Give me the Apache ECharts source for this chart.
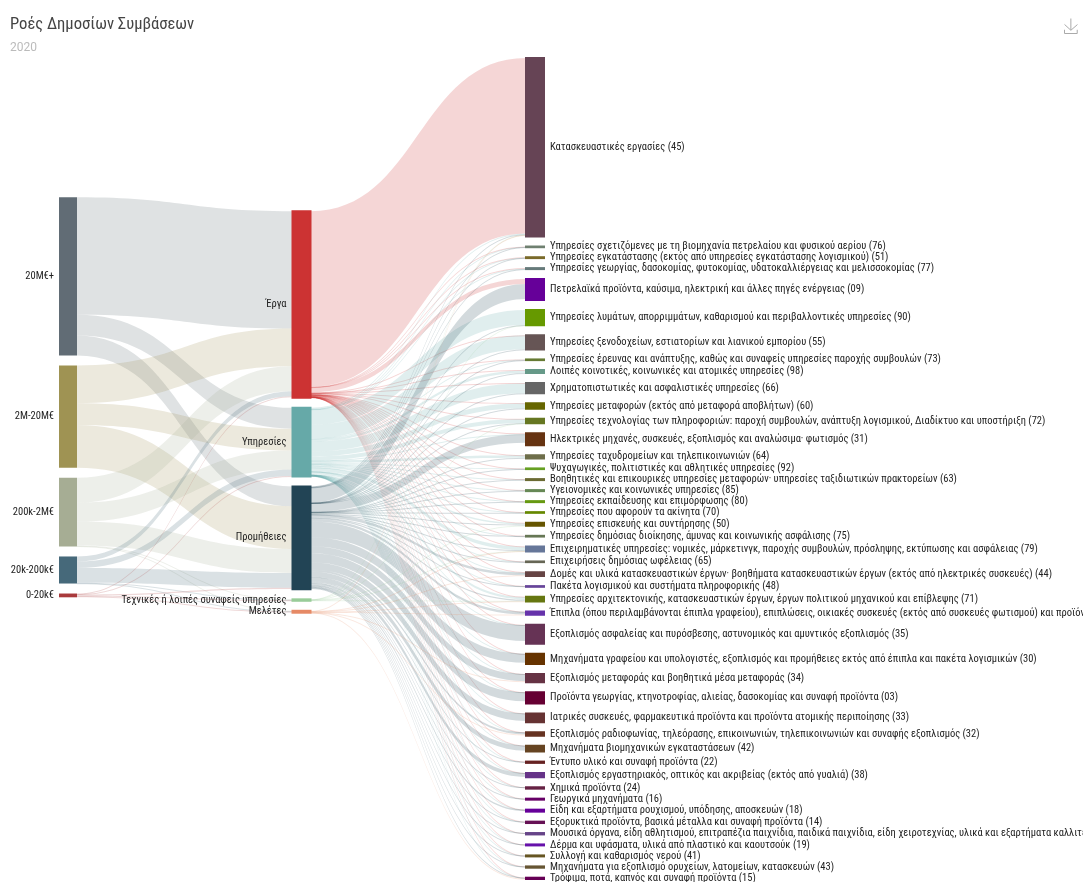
<!DOCTYPE html>
<html>
<head>
<meta charset="utf-8">
<title>Ροές Δημοσίων Συμβάσεων</title>
<script src="https://cdn.jsdelivr.net/npm/echarts@6/dist/echarts.min.js"></script>
<style>
  html, body { margin: 0; padding: 0; background: #fff; }
  #chart { width: 1083px; height: 882px; }
</style>
</head>
<body>
<div id="chart"></div>
<script>
const tierNames = ['20M€+', '2M-20M€', '200k-2M€', '20k-200k€', '0-20k€'];
const tierColors = ['#616c75', '#9f9353', '#a6ad94', '#46697a', '#a93a3c'];

const typeNames = ['Έργα', 'Υπηρεσίες', 'Προμήθειες', 'Τεχνικές ή λοιπές συναφείς υπηρεσίες', 'Μελέτες'];
const typeColors = ['#cc3333', '#66a9a8', '#224455', '#99cc99', '#e68a66'];
const typeTotals = [187.6, 69, 103.5, 1.4, 1.8];

// one row per tier, one column per contract type
const tierFlows = [
  [118, 21, 20, 0, 0],
  [38, 22, 43, 0, 0],
  [25, 19, 24, 0.5, 0.5],
  [5, 6.5, 15, 0.4, 0.3],
  [0.6, 0.5, 1.2, 0.5, 1]
];

const cpvNames = [
  'Κατασκευαστικές εργασίες (45)',
  'Υπηρεσίες σχετιζόμενες με τη βιομηχανία πετρελαίου και φυσικού αερίου (76)',
  'Υπηρεσίες εγκατάστασης (εκτός από υπηρεσίες εγκατάστασης λογισμικού) (51)',
  'Υπηρεσίες γεωργίας, δασοκομίας, φυτοκομίας, υδατοκαλλιέργειας και μελισσοκομίας (77)',
  'Πετρελαϊκά προϊόντα, καύσιμα, ηλεκτρική και άλλες πηγές ενέργειας (09)',
  'Υπηρεσίες λυμάτων, απορριμμάτων, καθαρισμού και περιβαλλοντικές υπηρεσίες (90)',
  'Υπηρεσίες ξενοδοχείων, εστιατορίων και λιανικού εμπορίου (55)',
  'Υπηρεσίες έρευνας και ανάπτυξης, καθώς και συναφείς υπηρεσίες παροχής συμβουλών (73)',
  'Λοιπές κοινοτικές, κοινωνικές και ατομικές υπηρεσίες (98)',
  'Χρηματοπιστωτικές και ασφαλιστικές υπηρεσίες (66)',
  'Υπηρεσίες μεταφορών (εκτός από μεταφορά αποβλήτων) (60)',
  'Υπηρεσίες τεχνολογίας των πληροφοριών: παροχή συμβουλών, ανάπτυξη λογισμικού, Διαδίκτυο και υποστήριξη (72)',
  'Ηλεκτρικές μηχανές, συσκευές, εξοπλισμός και αναλώσιμα· φωτισμός (31)',
  'Υπηρεσίες ταχυδρομείων και τηλεπικοινωνιών (64)',
  'Ψυχαγωγικές, πολιτιστικές και αθλητικές υπηρεσίες (92)',
  'Βοηθητικές και επικουρικές υπηρεσίες μεταφορών· υπηρεσίες ταξιδιωτικών πρακτορείων (63)',
  'Υγειονομικές και κοινωνικές υπηρεσίες (85)',
  'Υπηρεσίες εκπαίδευσης και επιμόρφωσης (80)',
  'Υπηρεσίες που αφορούν τα ακίνητα (70)',
  'Υπηρεσίες επισκευής και συντήρησης (50)',
  'Υπηρεσίες δημόσιας διοίκησης, άμυνας και κοινωνικής ασφάλισης (75)',
  'Επιχειρηματικές υπηρεσίες: νομικές, μάρκετινγκ, παροχής συμβουλών, πρόσληψης, εκτύπωσης και ασφάλειας (79)',
  'Επιχειρήσεις δημόσιας ωφέλειας (65)',
  'Δομές και υλικά κατασκευαστικών έργων· βοηθήματα κατασκευαστικών έργων (εκτός από ηλεκτρικές συσκευές) (44)',
  'Πακέτα λογισμικού και συστήματα πληροφορικής (48)',
  'Υπηρεσίες αρχιτεκτονικής, κατασκευαστικών έργων, έργων πολιτικού μηχανικού και επίβλεψης (71)',
  'Έπιπλα (όπου περιλαμβάνονται έπιπλα γραφείου), επιπλώσεις, οικιακές συσκευές (εκτός από συσκευές φωτισμού) και προϊόντα καθαρισμού (39)',
  'Εξοπλισμός ασφαλείας και πυρόσβεσης, αστυνομικός και αμυντικός εξοπλισμός (35)',
  'Μηχανήματα γραφείου και υπολογιστές, εξοπλισμός και προμήθειες εκτός από έπιπλα και πακέτα λογισμικών (30)',
  'Εξοπλισμός μεταφοράς και βοηθητικά μέσα μεταφοράς (34)',
  'Προϊόντα γεωργίας, κτηνοτροφίας, αλιείας, δασοκομίας και συναφή προϊόντα (03)',
  'Ιατρικές συσκευές, φαρμακευτικά προϊόντα και προϊόντα ατομικής περιποίησης (33)',
  'Εξοπλισμός ραδιοφωνίας, τηλεόρασης, επικοινωνιών, τηλεπικοινωνιών και συναφής εξοπλισμός (32)',
  'Μηχανήματα βιομηχανικών εγκαταστάσεων (42)',
  'Έντυπο υλικό και συναφή προϊόντα (22)',
  'Εξοπλισμός εργαστηριακός, οπτικός και ακριβείας (εκτός από γυαλιά) (38)',
  'Χημικά προϊόντα (24)',
  'Γεωργικά μηχανήματα (16)',
  'Είδη και εξαρτήματα ρουχισμού, υπόδησης, αποσκευών (18)',
  'Εξορυκτικά προϊόντα, βασικά μέταλλα και συναφή προϊόντα (14)',
  'Μουσικά όργανα, είδη αθλητισμού, επιτραπέζια παιχνίδια, παιδικά παιχνίδια, είδη χειροτεχνίας, υλικά και εξαρτήματα καλλιτεχνικών έργων (37)',
  'Δέρμα και υφάσματα, υλικά από πλαστικό και καουτσούκ (19)',
  'Συλλογή και καθαρισμός νερού (41)',
  'Μηχανήματα για εξοπλισμό ορυχείων, λατομείων, κατασκευών (43)',
  'Τρόφιμα, ποτά, καπνός και συναφή προϊόντα (15)'
];

const cpvColors = [
  '#664455', '#6f8070', '#7a6a2a', '#667a7a', '#660099', '#669900', '#665555', '#667a33', '#669988',
  '#666666', '#666600', '#667722', '#663311', '#6e6e4a', '#66a022', '#6b6b33', '#668855', '#669911',
  '#668800', '#665500', '#667755', '#667799', '#666655', '#664444', '#664499', '#667711', '#6633aa',
  '#663355', '#663300', '#663344', '#660033', '#663333', '#663322', '#664422', '#662222', '#663388',
  '#662244', '#660066', '#660099', '#661155', '#664488', '#6611aa', '#665522', '#665533', '#660055'
];

const cpvTotals = [
  179.5, 0.7, 0.7, 1, 21, 15, 14.3, 0.7, 3, 9.7, 5.7, 4.3, 12, 3.2, 0.7, 1, 1, 1, 0.7, 3, 0.7, 4, 0.7,
  4, 0.7, 4, 3.3, 19, 10.3, 8.3, 11.2, 9, 3.3, 6, 1.3, 4.4, 1.4, 1, 2, 1.4, 1.4, 1, 1, 1.3, 1.3
];

// flows from each contract type, same order as cpvNames
const worksFlows = [
  176.5, 0.2, 0.2, 0.3, 5, 0, 0.1, 0.2, 0.3, 0.1, 0.05, 0.05, 0.9, 0.05, 0.02, 0.2, 0.05, 0.02, 0.05, 0.3, 0.05, 0.1, 0.1,
  0.5, 0.05, 0.3, 0.1, 0.2, 0.02, 0.1, 0.02, 0.05, 0.2, 0.05, 0.1, 0.05, 0.02, 0.02, 0.02, 0.05, 0.02, 0.02, 0.05, 0.05, 0.02
];
const servicesFlows = [
  0.8, 0.4, 0.3, 0.5, 0, 15, 14, 0.4, 2.5, 10, 5, 4, 0.1, 2.5, 0.6, 0.4, 0.5, 0.7, 0.5, 1.5, 0.3, 3.5, 0.4,
  0.2, 0.1, 2.5, 0.3, 0.1, 0.1, 0.1, 0.05, 0.05, 0.05, 0.1, 0.2, 0.1, 0.05, 0.02, 0.05, 0.05, 0.05, 0.02, 0.2, 0.1, 0.05
];
const suppliesFlows = [
  0.5, 0.1, 0.4, 0.2, 15, 0.1, 0.1, 0.05, 0.1, 0.05, 0.1, 0.2, 8.5, 0.1, 0.02, 0.1, 0.5, 0.1, 0.05, 1, 0.4, 0.6, 0.2,
  2.5, 0.5, 1.2, 2.5, 16, 9, 7, 9, 7.5, 2, 5, 0.8, 4, 1, 0.7, 1.5, 0.8, 0.8, 0.7, 0.5, 0.8, 1
];
const technicalFlows = [
  0.05, 0, 0, 0, 0, 0.2, 0, 0, 0, 0, 0, 0.2, 0, 0, 0, 0, 0, 0, 0, 0.2, 0, 0.3, 0,
  0, 0, 0.5, 0, 0, 0, 0, 0, 0, 0, 0, 0, 0, 0, 0, 0, 0, 0, 0, 0, 0, 0
];
const studiesFlows = [
  0.15, 0, 0, 0, 0, 0, 0, 0, 0, 0, 0, 0, 0, 0, 0, 0, 0, 0, 0, 0, 0, 0.4, 0,
  0.3, 0, 0.3, 0.4, 0, 0, 0.2, 0, 0, 0.1, 0, 0, 0, 0, 0, 0, 0, 0, 0, 0, 0, 0.1
];

const typeFlows = [worksFlows, servicesFlows, suppliesFlows, technicalFlows, studiesFlows];

const labelFont = "'Roboto Condensed', 'Liberation Sans Narrow', 'Noto Sans', sans-serif";

// layoutIterations 0 keeps the given order, so the two shorter columns are
// pushed down by a blank node at their top
const blankNode = (name, depth, value) => ({
  name,
  depth,
  value,
  itemStyle: { color: 'transparent', borderWidth: 0 },
  label: { show: false }
});

const nodes = [blankNode('blank-tier', 0, 130)];
tierNames.forEach((name, i) => {
  nodes.push({
    name,
    itemStyle: { color: tierColors[i], borderWidth: 0 },
    label: { position: 'left' }
  });
});
nodes.push(blankNode('blank-type', 1, 144));
typeNames.forEach((name, i) => {
  nodes.push({
    name,
    value: typeTotals[i],
    itemStyle: { color: typeColors[i], borderColor: typeColors[i] },
    label: { position: 'left' }
  });
});
cpvNames.forEach((name, i) => {
  nodes.push({
    name,
    value: cpvTotals[i],
    itemStyle: { color: cpvColors[i], borderColor: cpvColors[i] },
    label: { position: 'right' }
  });
});

const links = [];
tierFlows.forEach((row, i) => {
  row.forEach((value, j) => {
    if (value > 0) links.push({ source: tierNames[i], target: typeNames[j], value });
  });
});
typeFlows.forEach((row, i) => {
  row.forEach((value, j) => {
    if (value > 0) links.push({ source: typeNames[i], target: cpvNames[j], value });
  });
});

const chart = echarts.init(document.getElementById('chart'), null, { renderer: 'canvas' });

chart.setOption({
  animation: false,
  title: {
    text: 'Ροές Δημοσίων Συμβάσεων',
    subtext: '2020',
    left: 5,
    top: 11,
    itemGap: 9,
    textStyle: { fontFamily: labelFont, fontSize: 16.6, fontWeight: 'normal', color: '#444' },
    subtextStyle: { fontFamily: 'Roboto', fontSize: 12, color: '#bbb' }
  },
  toolbox: {
    left: 1047,
    top: 1,
    feature: { saveAsImage: { title: '' } },
    iconStyle: { borderColor: '#aaa' }
  },
  series: [
    {
      type: 'sankey',
      left: 59,
      top: 58,
      width: 485,
      height: 821,
      nodeWidth: 18,
      nodeGap: 10,
      layoutIterations: 0,
      data: nodes,
      links,
      itemStyle: { borderWidth: 2 },
      lineStyle: { color: 'source', opacity: 0.2, curveness: 0.5 },
      label: { fontFamily: labelFont, fontSize: 10.5, color: '#222' },
      emphasis: { disabled: true }
    }
  ]
});

window.addEventListener('resize', () => chart.resize());
</script>
</body>
</html>
